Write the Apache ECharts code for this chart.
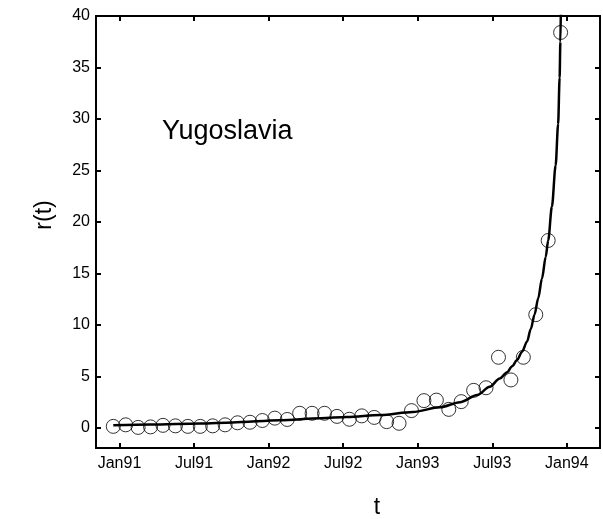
<!DOCTYPE html>
<html>
<head>
<meta charset="utf-8">
<script src="https://cdn.jsdelivr.net/npm/echarts@6/dist/echarts.min.js"></script>
<style>
html,body{margin:0;padding:0;background:#fff;}
#chart{width:603px;height:519px;}
</style>
</head>
<body>
<div id="chart"></div>
<script>
// Observed data: months since Jan 1991 and r(t)
const obsMonths = [-0.5, 0.5, 1.5, 2.5, 3.5, 4.5, 5.5, 6.5, 7.5, 8.5, 9.5, 10.5, 11.5, 12.5, 13.5, 14.5, 15.5, 16.5, 17.5, 18.5, 19.5, 20.5, 21.5, 22.5, 23.5, 24.5, 25.5, 26.5, 27.5, 28.5, 29.5, 30.5, 31.5, 32.5, 33.5, 34.5, 35.5];
const obsValues = [0.15, 0.3, 0.05, 0.1, 0.25, 0.2, 0.15, 0.15, 0.2, 0.3, 0.5, 0.55, 0.72, 0.95, 0.82, 1.42, 1.42, 1.42, 1.12, 0.84, 1.17, 1.02, 0.61, 0.45, 1.68, 2.65, 2.7, 1.8, 2.55, 3.65, 3.9, 6.86, 4.66, 6.86, 11.0, 18.2, 38.4];

// Fitted curve
const fitMonths = [-0.5, 2.5, 6.5, 9.1, 12.9, 16.2, 18.3, 21.0, 23.6, 25.8, 27.4, 28.8, 29.8, 30.6, 31.2, 31.6, 32.0, 32.4, 32.8, 33.1, 33.4, 33.7, 34.0, 34.3, 34.5, 34.8, 35.1, 35.3, 35.42, 35.48, 35.52];
const fitValues = [0.25, 0.32, 0.42, 0.53, 0.75, 0.95, 1.05, 1.25, 1.55, 2.0, 2.5, 3.2, 4.0, 4.8, 5.4, 6.0, 6.6, 7.4, 8.4, 9.6, 11.0, 12.6, 14.5, 16.6, 18.2, 21.5, 25.5, 29.5, 34.0, 37.5, 40.5];

const xTickValues = [0, 6, 12, 18, 24, 30, 36];
const xTickLabels = ['Jan91', 'Jul91', 'Jan92', 'Jul92', 'Jan93', 'Jul93', 'Jan94'];
const yTickValues = [0, 5, 10, 15, 20, 25, 30, 35, 40];

const FONT = 'Liberation Sans, Arial, sans-serif';
const chart = echarts.init(document.getElementById('chart'), null, {renderer: 'canvas'});

const xBase = {
  type: 'value', min: -1.89, max: 38.67,
  splitLine: {show: false},
  axisLine: {show: false, onZero: false}
};
const yBase = {
  type: 'value', min: -1.95, max: 40,
  splitLine: {show: false},
  axisLine: {show: false, onZero: false}
};
const tickStyle = {color: '#000', width: 2};

chart.setOption({
  animation: false,
  backgroundColor: '#fff',
  grid: {left: 96, top: 16, width: 504, height: 432, show: true, borderColor: '#000', borderWidth: 2, backgroundColor: 'transparent', containLabel: false, outerBoundsMode: 'none'},
  xAxis: [
    Object.assign({}, xBase, {
      position: 'bottom',
      axisTick: {show: true, inside: true, length: 5, lineStyle: tickStyle, customValues: xTickValues},
      axisLabel: {show: true, color: '#000', fontFamily: FONT, fontSize: 16, margin: 8, customValues: xTickValues,
        formatter: function (v) { const i = xTickValues.indexOf(Math.round(v)); return i >= 0 ? xTickLabels[i] : ''; }}
    }),
    Object.assign({}, xBase, {
      position: 'top',
      axisTick: {show: true, inside: true, length: 5, lineStyle: tickStyle, customValues: xTickValues},
      axisLabel: {show: false}
    })
  ],
  yAxis: [
    Object.assign({}, yBase, {
      position: 'left',
      axisTick: {show: true, inside: true, length: 5, lineStyle: tickStyle, customValues: yTickValues},
      axisLabel: {show: true, color: '#000', fontFamily: FONT, fontSize: 16, margin: 6, customValues: yTickValues}
    }),
    Object.assign({}, yBase, {
      position: 'right',
      axisTick: {show: true, inside: true, length: 5, lineStyle: tickStyle, customValues: yTickValues},
      axisLabel: {show: false}
    })
  ],
  series: [
    {
      type: 'line',
      data: fitMonths.map((m, i) => [m, fitValues[i]]),
      showSymbol: false,
      smooth: 0.3,
      smoothMonotone: 'x',
      clip: true,
      lineStyle: {color: '#000', width: 2.5},
      z: 2
    },
    {
      type: 'scatter',
      data: obsMonths.map((m, i) => [m, obsValues[i]]),
      symbol: 'circle',
      symbolSize: 14,
      itemStyle: {color: 'rgba(0,0,0,0)', borderColor: '#000', borderWidth: 1},
      z: 3
    }
  ],
  graphic: [
    {type: 'text', left: 162, top: 118, style: {text: 'Yugoslavia', fill: '#000', font: '27px ' + FONT}},
    {type: 'text', x: 45, y: 215, rotation: Math.PI / 2, style: {text: 'r(t)', fill: '#000', font: '23px ' + FONT, align: 'center', verticalAlign: 'middle'}},
    {type: 'text', x: 377, y: 508, style: {text: 't', fill: '#000', font: '23px ' + FONT, align: 'center', verticalAlign: 'middle'}}
  ]
});
</script>
</body>
</html>
